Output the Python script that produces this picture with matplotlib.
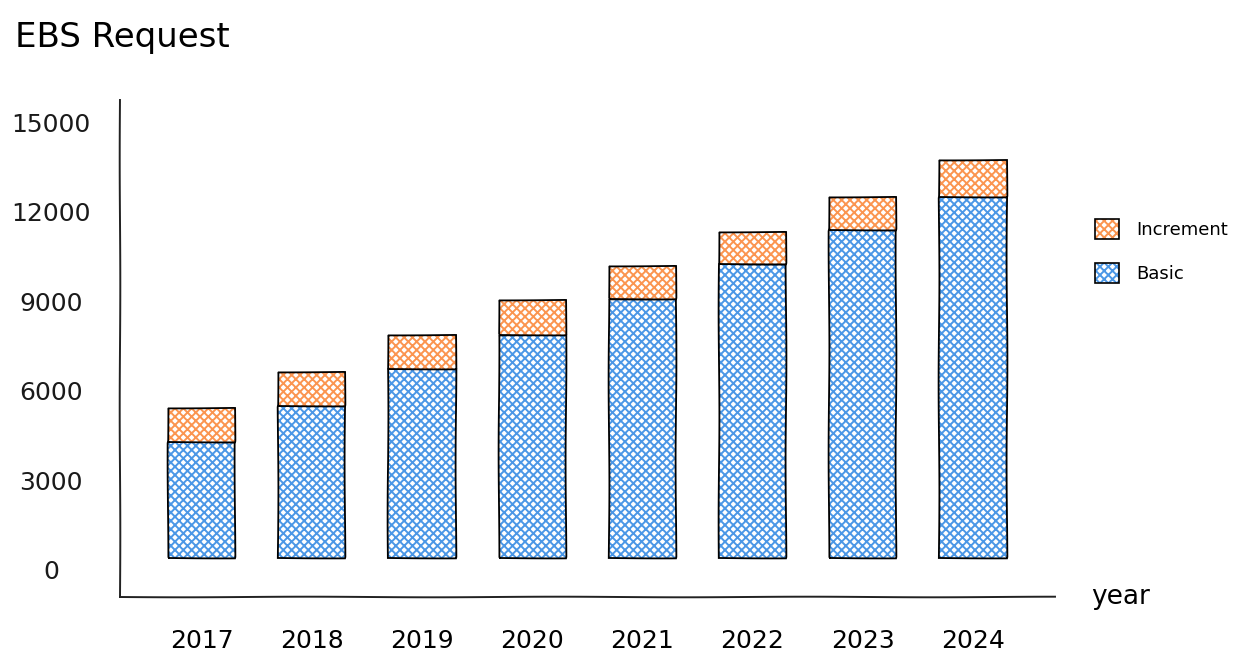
import matplotlib
matplotlib.use("Agg")
import matplotlib.pyplot as plt
import matplotlib.transforms as mtransforms
from matplotlib.patches import Patch
from matplotlib.legend_handler import HandlerTuple
import numpy as np

plt.rcParams['font.family'] = ['DejaVu Sans']
plt.rcParams['hatch.linewidth'] = 1.4

# ---- data ----
years = ["2017", "2018", "2019", "2020", "2021", "2022", "2023", "2024"]
basic = [3900, 5100, 6350, 7500, 8700, 9850, 11000, 12100]
increment = [1150, 1150, 1150, 1150, 1100, 1100, 1100, 1250]
yticks = [0, 3000, 6000, 9000, 12000, 15000]
title = "EBS Request"
xlabel = "year"
series_names = ["Increment", "Basic"]

blue_hatch = "#4b97e6"
blue_face = "#ffffff"
orange_hatch = "#fb9550"
orange_face = "#ffffff"
HATCH = "xxxx"

W, H = 1239, 664
fig = plt.figure(figsize=(W / 100, H / 100), dpi=100)
ax = fig.add_axes([120 / W, 1 - 597 / H, (1055 - 120) / W, (597 - 100) / H])

x = np.arange(len(years))
width = 0.61
sketch = (0.4, 220, 1.5)

# Basic bars: hatch layer + outline
ax.bar(x, basic, width, color=blue_face, edgecolor=blue_hatch,
       hatch=HATCH, linewidth=0)
b_o = ax.bar(x, basic, width, fill=False, edgecolor="black", linewidth=1.3)
# Increment bars
ax.bar(x, increment, width, bottom=basic, color=orange_face,
       edgecolor=orange_hatch, hatch=HATCH, linewidth=0)
i_o = ax.bar(x, increment, width, bottom=basic, fill=False,
             edgecolor="black", linewidth=1.3)
for cont in (b_o, i_o):
    for p in cont:
        p.set_sketch_params(*sketch)

ax.set_ylim(-(597 - 558) / (29.8 / 1000), (558 - 100) / (29.8 / 1000))
ax.set_xlim(-0.74, 7.745)

for s in ("top", "right"):
    ax.spines[s].set_visible(False)
for s in ("left", "bottom"):
    ax.spines[s].set_linewidth(1.4)
    ax.spines[s].set_color("#222222")
    ax.spines[s].set_sketch_params(0.3, 250, 1)

ax.set_yticks(yticks)
ax.set_yticklabels([])
ax.set_xticks(x)
ax.set_xticklabels(years, fontsize=18)
ax.tick_params(axis="both", length=0)
ax.tick_params(axis="x", pad=23)

# y tick labels, centered left of axis, slightly lowered (hand-drawn look)
trans = mtransforms.blended_transform_factory(ax.transAxes, ax.transData)
off = mtransforms.ScaledTranslation(-69 / 100, -14 / 100, fig.dpi_scale_trans)
for v in yticks:
    ax.text(0, v, str(v), transform=trans + off, ha="center", va="center",
            fontsize=18, color="#1a1a1a")

# axis label "year"
ax.annotate(xlabel, xy=(1, 0), xycoords="axes fraction", xytext=(36, 0),
            textcoords="offset pixels", ha="left", va="center", fontsize=19)

# title
fig.text(15 / W, 1 - 37 / H, title, ha="left", va="center", fontsize=24.5)

# legend
hi = Patch(facecolor=orange_face, edgecolor=orange_hatch, hatch=HATCH, linewidth=0)
ho = Patch(fill=False, edgecolor="black", linewidth=1.2)
bi = Patch(facecolor=blue_face, edgecolor=blue_hatch, hatch=HATCH, linewidth=0)
bo = Patch(fill=False, edgecolor="black", linewidth=1.2)
fs = 13
em = fs * 100 / 72
ax.legend([(hi, ho), (bi, bo)], series_names, handler_map={tuple: HandlerTuple(ndivide=1)},
          loc="upper left", bbox_to_anchor=(1095 / W, 1 - 219 / H),
          bbox_transform=fig.transFigure, frameon=False, fontsize=fs,
          borderpad=0, borderaxespad=0, handlelength=24 / em, handleheight=24 / em,
          handletextpad=17 / em, labelspacing=24 / em)

fig.savefig("out.png", dpi=100)
